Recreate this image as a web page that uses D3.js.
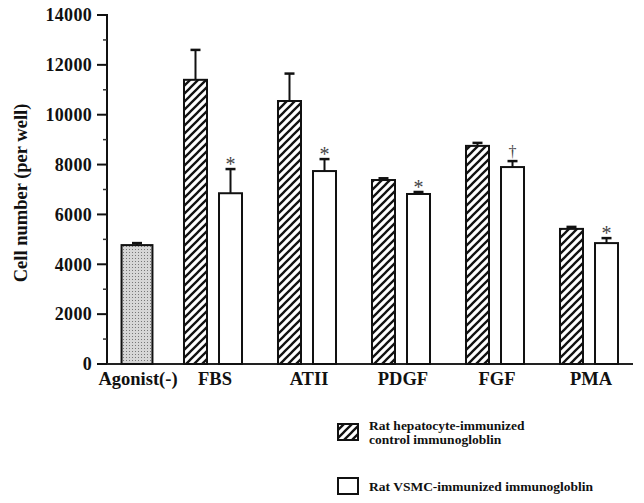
<!DOCTYPE html>
<html>
<head>
<meta charset="utf-8">
<script src="https://d3js.org/d3.v7.min.js"></script>
<style>
  body { margin: 0; background: #fff; }
  text { font-family: "Liberation Serif", "DejaVu Serif", serif; font-weight: bold; fill: #111; }
</style>
</head>
<body>
<div id="chart"></div>
<script>
// data
var groups = ["FBS", "ATII", "PDGF", "FGF", "PMA"];
var series = ["control", "vsmc"];
var controlMean = [11400, 10550, 7380, 8750, 5420];
var controlErr  = [1200, 1100, 70, 120, 80];
var vsmcMean    = [6850, 7740, 6820, 7900, 4850];
var vsmcErr     = [970, 480, 80, 240, 200];
var vsmcMark    = ["*", "*", "*", "\u2020", "*"];
var baseLabel = ["Agonist(-)"];
var baseMean  = [4770];
var baseErr   = [80];
var yTicks = [0, 2000, 4000, 6000, 8000, 10000, 12000, 14000];
var legendLabels = [["Rat hepatocyte-immunized", "control immunogloblin"], ["Rat VSMC-immunized immunogloblin"]];

var width = 644, height = 503;
var svg = d3.select("#chart").append("svg")
    .attr("width", width)
    .attr("height", height);

var defs = svg.append("defs");
var hatch = defs.append("pattern")
    .attr("id", "hatch")
    .attr("patternUnits", "userSpaceOnUse")
    .attr("width", 8).attr("height", 8);
hatch.append("rect").attr("width", 8).attr("height", 8).attr("fill", "#fff");
hatch.append("path")
    .attr("d", "M-2,2 l4,-4 M0,8 l8,-8 M6,10 l4,-4")
    .attr("stroke", "#111").attr("stroke-width", 2.3);

var dots = defs.append("pattern")
    .attr("id", "dots")
    .attr("patternUnits", "userSpaceOnUse")
    .attr("width", 3).attr("height", 3);
dots.append("rect").attr("width", 3).attr("height", 3).attr("fill", "#d6d6d6");
dots.append("rect").attr("width", 1).attr("height", 1).attr("fill", "#777");

// scales
var y = d3.scaleLinear().domain([0, 14000]).range([364, 15]);
var xBase = d3.scaleBand().domain(baseLabel).range([107, 167]).padding(0.32);
var x0 = d3.scaleBand().domain(groups).range([166, 636]);
var x1 = d3.scaleBand().domain(series).range([0, x0.bandwidth()])
    .paddingInner(0.343).paddingOuter(0.514);

var fills = {control: "url(#hatch)", vsmc: "#fff"};

var rows = groups.map(function(g, i) {
  return [
    {group: g, key: "control", value: controlMean[i], err: controlErr[i], mark: ""},
    {group: g, key: "vsmc", value: vsmcMean[i], err: vsmcErr[i], mark: vsmcMark[i]}
  ];
});

// y axis
var yAxis = svg.append("g").attr("transform", "translate(107,0)");
yAxis.append("line").attr("y1", y(14000) - 1).attr("y2", y(0))
    .attr("stroke", "#111").attr("stroke-width", 2);
yAxis.selectAll(".minor").data(d3.range(1000, 14000, 2000)).enter().append("line")
    .attr("x1", -4).attr("x2", 0)
    .attr("y1", function(d) { return y(d); }).attr("y2", function(d) { return y(d); })
    .attr("stroke", "#333").attr("stroke-width", 1.5);
yAxis.selectAll(".major").data(yTicks).enter().append("line")
    .attr("x1", -10).attr("x2", 0)
    .attr("y1", function(d) { return y(d); }).attr("y2", function(d) { return y(d); })
    .attr("stroke", "#111").attr("stroke-width", 2);
yAxis.selectAll(".lab").data(yTicks).enter().append("text")
    .attr("x", -15)
    .attr("y", function(d) { return y(d); })
    .attr("dy", "0.35em")
    .attr("text-anchor", "end")
    .style("font-size", "18px")
    .style("letter-spacing", "0.3px")
    .text(function(d) { return d; });

svg.append("text")
    .attr("transform", "translate(27,193) rotate(-90)")
    .attr("text-anchor", "middle")
    .style("font-size", "18.5px")
    .text("Cell number (per well)");

// baseline
svg.append("line")
    .attr("x1", 107).attr("x2", 633)
    .attr("y1", y(0)).attr("y2", y(0))
    .attr("stroke", "#222").attr("stroke-width", 2);

function errBar(g, cx, top, hi) {
  g.append("line").attr("x1", cx).attr("x2", cx).attr("y1", top).attr("y2", hi)
      .attr("stroke", "#111").attr("stroke-width", 2);
  g.append("line").attr("x1", cx - 5).attr("x2", cx + 5).attr("y1", hi).attr("y2", hi)
      .attr("stroke", "#111").attr("stroke-width", 2.5);
}

// agonist(-) bar
var base = svg.append("g");
baseLabel.forEach(function(l, i) {
  var cx = xBase(l) + xBase.bandwidth() / 2;
  errBar(base, cx, y(baseMean[i]), y(baseMean[i] + baseErr[i]));
  base.append("rect")
      .attr("x", xBase(l)).attr("width", xBase.bandwidth())
      .attr("y", y(baseMean[i])).attr("height", y(0) - y(baseMean[i]))
      .attr("fill", "url(#dots)").attr("stroke", "#111").attr("stroke-width", 2);
});

// grouped bars
var gg = svg.selectAll(".grp").data(rows).enter().append("g")
    .attr("transform", function(d) { return "translate(" + x0(d[0].group) + ",0)"; });

gg.each(function(d) {
  var g = d3.select(this);
  d.forEach(function(b) {
    var cx = x1(b.key) + x1.bandwidth() / 2;
    errBar(g, cx, y(b.value), y(b.value + b.err));
    g.append("rect")
        .attr("x", x1(b.key)).attr("width", x1.bandwidth())
        .attr("y", y(b.value)).attr("height", y(0) - y(b.value))
        .attr("fill", fills[b.key]).attr("stroke", "#111").attr("stroke-width", 2);
    if (b.mark) {
      g.append("text")
          .attr("x", cx).attr("y", y(b.value + b.err) + (b.mark === "*" ? 2 : -4))
          .attr("text-anchor", "middle")
          .style("font-size", b.mark === "*" ? "20px" : "16px")
          .style("font-weight", "normal")
          .style("fill", "#444")
          .text(b.mark);
    }
  });
});

// category labels
svg.selectAll(".cat").data(baseLabel.concat(groups)).enter().append("text")
    .attr("x", function(d) {
      return d === baseLabel[0] ? xBase(d) + xBase.bandwidth() / 2 + 1 : x0(d) + x0.bandwidth() / 2 + 2;
    })
    .attr("y", 385)
    .attr("text-anchor", "middle")
    .style("font-size", "18.5px")
    .text(function(d) { return d; });

// legend
var leg = svg.append("g");
var legBox = [424, 478];
var legText = [[430, 444], [491]];
series.forEach(function(s, i) {
  leg.append("rect")
      .attr("x", 338).attr("y", legBox[i]).attr("width", 20).attr("height", 16)
      .attr("fill", fills[s]).attr("stroke", "#111").attr("stroke-width", 2);
  legendLabels[i].forEach(function(t, j) {
    leg.append("text")
        .attr("x", 369).attr("y", legText[i][j])
        .style("font-size", "13.5px")
        .text(t);
  });
});
</script>
</body>
</html>
